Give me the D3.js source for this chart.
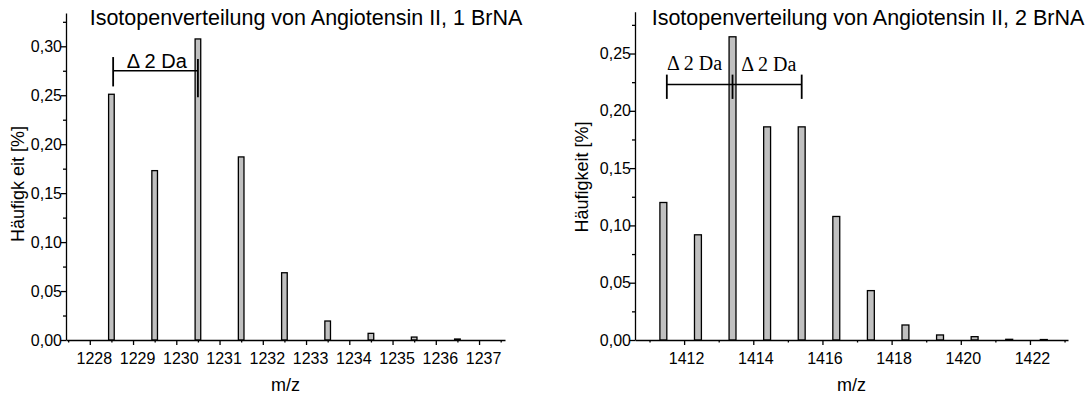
<!DOCTYPE html>
<html>
<head>
<meta charset="utf-8">
<script src="https://cdn.jsdelivr.net/npm/d3@7"></script>
<style>
  body { margin: 0; background: #fff; }
  svg { display: block; font-family: "Liberation Sans", Arial, sans-serif; }
</style>
</head>
<body>
<div id="chart"></div>
<script>
// Isotope distribution, 1 BrNA
const mz1 = [1228.5, 1229.5, 1230.5, 1231.5, 1232.5, 1233.5, 1234.5, 1235.5, 1236.5];
const abund1 = [0.251, 0.173, 0.3075, 0.187, 0.0687, 0.0194, 0.0068, 0.003, 0.001];
const xTicks1 = [1228, 1229, 1230, 1231, 1232, 1233, 1234, 1235, 1236, 1237];
const yTicks1 = [0, 0.05, 0.10, 0.15, 0.20, 0.25, 0.30];

// Isotope distribution, 2 BrNA
const mz2 = [1411.4, 1412.4, 1413.4, 1414.4, 1415.4, 1416.4, 1417.4, 1418.4, 1419.4, 1420.4, 1421.4, 1422.4];
const abund2 = [0.120, 0.0918, 0.2646, 0.186, 0.186, 0.1078, 0.0431, 0.0131, 0.0044, 0.0029, 0.0006, 0.0004];
const xTicks2 = [1412, 1414, 1416, 1418, 1420, 1422];
const yTicks2 = [0, 0.05, 0.10, 0.15, 0.20, 0.25];

const titles = ["Isotopenverteilung von Angiotensin II, 1 BrNA", "Isotopenverteilung von Angiotensin II, 2 BrNA"];
const yLabels = ["Häufigk eit [%]", "Häufigkeit [%]"];
const xLabel = "m/z";

const svg = d3.select("#chart").append("svg")
  .attr("width", 1091)
  .attr("height", 396);

const fmt = d => d3.format(".2f")(d).replace(".", ",");

function drawPanel(opt) {
  const x = d3.scaleLinear().domain(opt.xDomain).range(opt.xRange);
  const y = d3.scaleLinear().domain(opt.yDomain).range([340, opt.yTop]);
  const g = svg.append("g");

  // bars
  g.selectAll("rect.bar")
    .data(opt.mz)
    .enter()
    .append("rect")
      .attr("class", "bar")
      .attr("x", d => x(d - opt.half))
      .attr("width", d => x(d + opt.half) - x(d - opt.half))
      .attr("y", (d, i) => y(opt.abund[i]))
      .attr("height", (d, i) => y(0) - y(opt.abund[i]))
      .attr("fill", "#c0c0c0")
      .attr("stroke", "#000")
      .attr("stroke-width", 1.3);

  // minor ticks first
  g.append("g")
    .attr("transform", `translate(0,${y(0)})`)
    .call(d3.axisBottom(x).tickValues(opt.xMinor).tickSize(2.5).tickFormat(""))
    .call(a => a.select(".domain").remove());
  g.append("g")
    .attr("transform", `translate(${x(opt.xDomain[0])},0)`)
    .call(d3.axisLeft(y).tickValues(opt.yMinor).tickSize(3).tickFormat(""))
    .call(a => a.select(".domain").remove());

  // major axes
  const xa = g.append("g")
    .attr("transform", `translate(0,${y(0)})`)
    .call(d3.axisBottom(x).tickValues(opt.xTicks).tickSize(5).tickPadding(8).tickSizeOuter(0).tickFormat(d3.format("d")));
  xa.selectAll("text").attr("dx", opt.labelDx);

  g.append("g")
    .attr("transform", `translate(${x(opt.xDomain[0])},0)`)
    .call(d3.axisLeft(y).tickValues(opt.yTicks).tickSize(5).tickPadding(-1).tickSizeOuter(0).tickFormat(fmt));

  g.selectAll(".tick text").attr("font-size", 16).attr("fill", "#000").attr("font-family", "Liberation Sans, Arial, sans-serif");
  g.selectAll(".tick line").attr("stroke", "#000").attr("stroke-width", 1.3);
  g.selectAll(".domain").attr("stroke", "#000").attr("stroke-width", 1.3);

  // titles
  g.append("text")
    .attr("x", opt.titleX)
    .attr("y", 25)
    .attr("text-anchor", "middle")
    .attr("font-size", 21.5)
    .text(opt.title);

  g.append("text")
    .attr("x", (opt.xRange[0] + opt.xRange[1]) / 2)
    .attr("y", 391)
    .attr("text-anchor", "middle")
    .attr("font-size", 18)
    .text(xLabel);

  g.append("text")
    .attr("transform", `translate(${opt.yLabelX},${opt.yLabelY}) rotate(-90)`)
    .attr("text-anchor", "middle")
    .attr("font-size", 18)
    .text(opt.yLabel);

  return { x, y, g };
}

// left panel
const p1 = drawPanel({
  mz: mz1, abund: abund1, half: 0.065,
  xDomain: [1227.45, 1237.6], xRange: [66, 505],
  yDomain: [0, 0.334], yTop: 13,
  xTicks: xTicks1, xMinor: d3.range(1227.5, 1237.6, 1),
  yTicks: yTicks1, yMinor: d3.range(0.025, 0.33, 0.05),
  labelDx: 4, title: titles[0], titleX: 306,
  yLabel: yLabels[0], yLabelX: 24, yLabelY: 184
});

// right panel
const p2 = drawPanel({
  mz: mz2, abund: abund2, half: 0.1,
  xDomain: [1410.58, 1423.1], xRange: [635, 1068],
  yDomain: [0, 0.2865], yTop: 11.7,
  xTicks: xTicks2, xMinor: d3.range(1411, 1423.5, 2),
  yTicks: yTicks2, yMinor: d3.range(0.025, 0.28, 0.05),
  labelDx: 2, title: titles[1], titleX: 868,
  yLabel: yLabels[1], yLabelX: 588, yLabelY: 177
});

// delta 2 Da brackets
function bracket(p, xs, yLine, ticks) {
  p.g.append("line")
    .attr("x1", p.x(xs[0])).attr("x2", p.x(xs[xs.length - 1]))
    .attr("y1", p.y(yLine)).attr("y2", p.y(yLine))
    .attr("stroke", "#000").attr("stroke-width", 1.5);
  xs.forEach((v, i) => {
    p.g.append("line")
      .attr("x1", p.x(v)).attr("x2", p.x(v))
      .attr("y1", p.y(ticks[i][0])).attr("y2", p.y(ticks[i][1]))
      .attr("stroke", "#000").attr("stroke-width", 1.8);
  });
}

bracket(p1, [1228.54, 1230.5], 0.275, [[0.289, 0.259], [0.287, 0.248]]);
p1.g.append("text")
  .attr("x", p1.x(1229.55))
  .attr("y", p1.y(0.278))
  .attr("text-anchor", "middle")
  .attr("font-size", 20)
  .text("Δ 2 Da");

bracket(p2, [1411.5, 1413.4, 1415.4], 0.223, [[0.2316, 0.2104], [0.2316, 0.2104], [0.2316, 0.2104]]);
p2.g.append("text")
  .attr("x", p2.x(1412.3))
  .attr("y", p2.y(0.236))
  .attr("text-anchor", "middle")
  .attr("font-family", "Liberation Serif, Times New Roman, serif")
  .attr("font-size", 20)
  .text("Δ 2 Da");
p2.g.append("text")
  .attr("x", p2.x(1414.45))
  .attr("y", p2.y(0.235))
  .attr("text-anchor", "middle")
  .attr("font-family", "Liberation Serif, Times New Roman, serif")
  .attr("font-size", 20)
  .text("Δ 2 Da");
</script>
</body>
</html>
